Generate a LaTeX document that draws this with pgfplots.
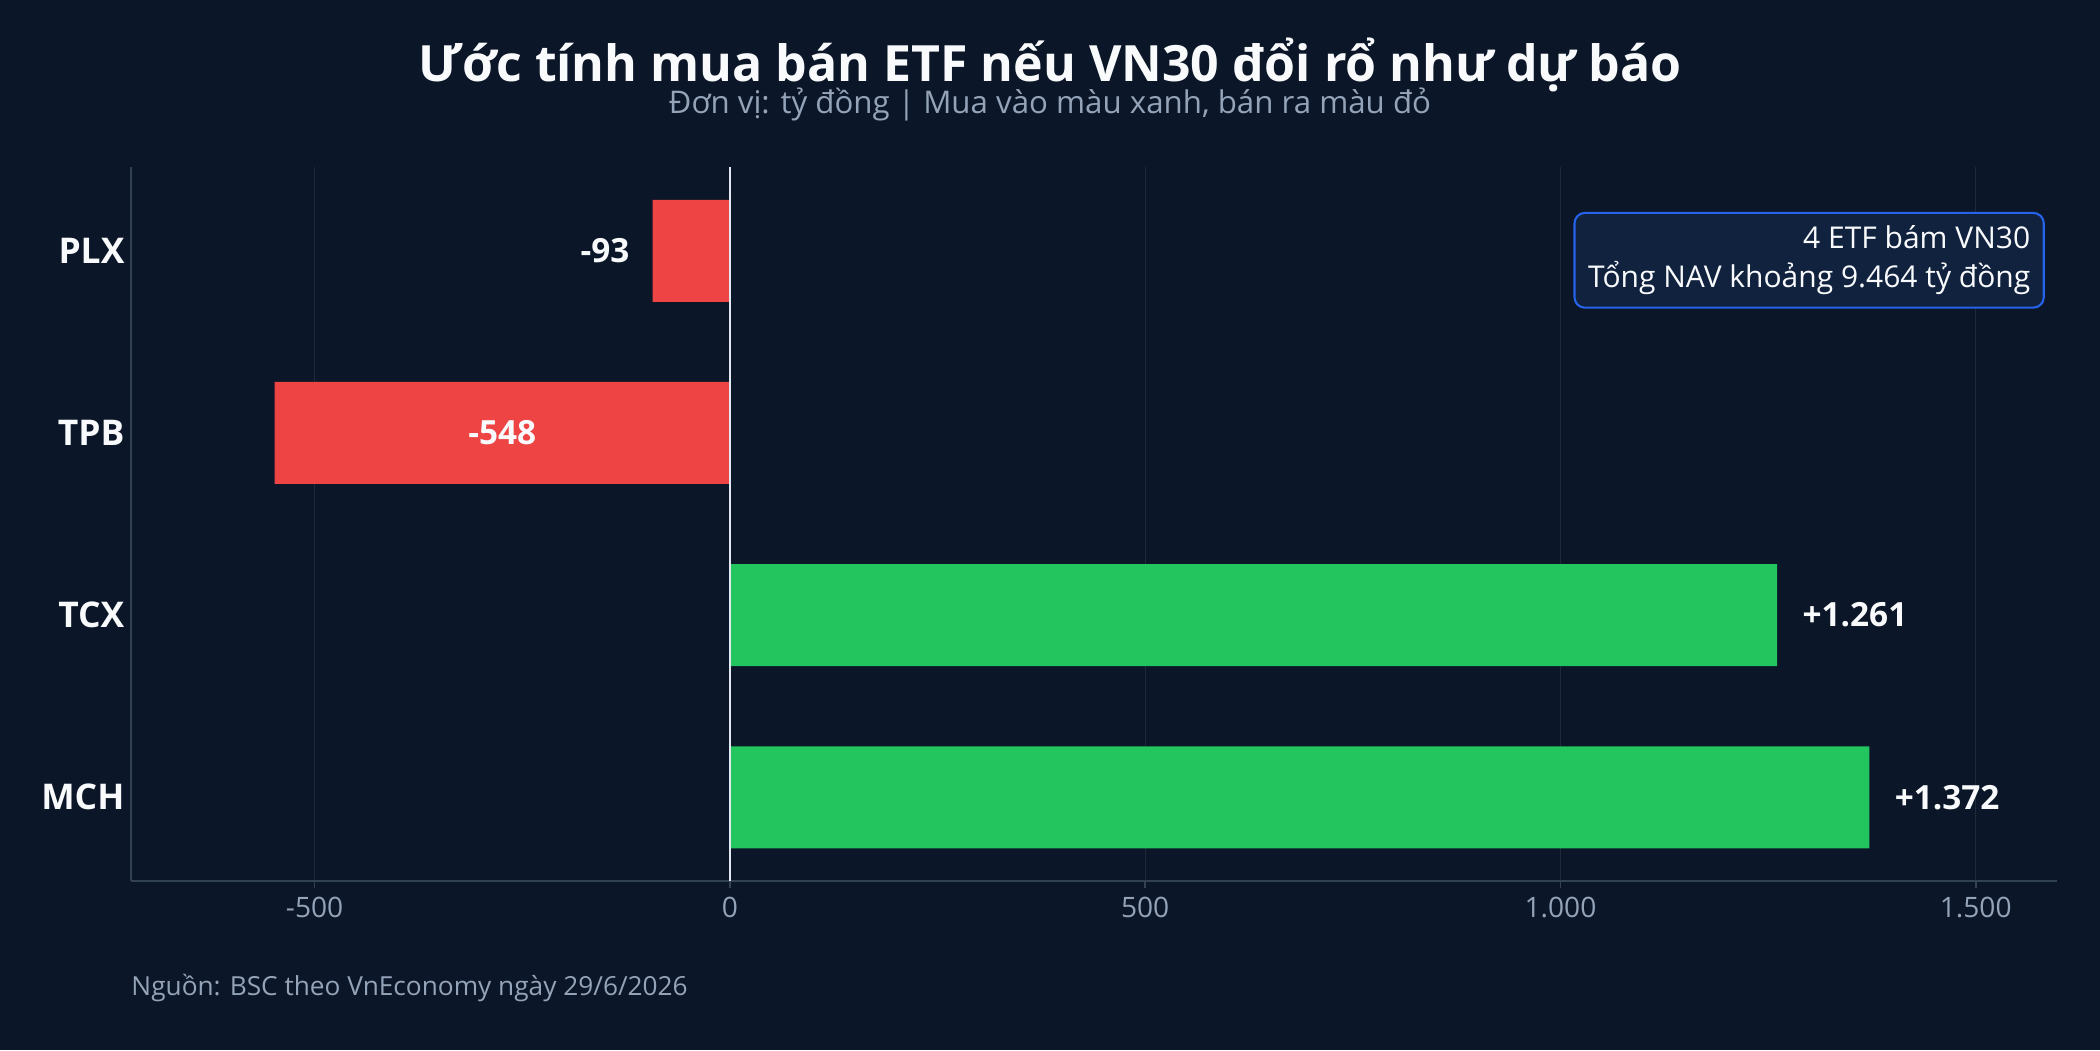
\documentclass[border=0pt]{standalone}
\usepackage{pgfplots}
\pgfplotsset{compat=1.18}
\usepackage{fontspec}
\setmainfont{Open Sans}

\definecolor{bg}{HTML}{0B1628}
\definecolor{gridc}{HTML}{1E293B}
\definecolor{spine}{HTML}{334155}
\definecolor{muted}{HTML}{94A3B8}
\definecolor{zeroc}{HTML}{E2E8F0}
\definecolor{sellc}{HTML}{EF4444}
\definecolor{buyc}{HTML}{22C55E}
\definecolor{boxfill}{HTML}{11223F}
\definecolor{boxedge}{HTML}{2563EB}
\definecolor{txt}{HTML}{F8FAFC}

\begin{document}
\begin{tikzpicture}
% page 14in x 7in
\fill[bg] (0,0) rectangle (1008pt,504pt);

\node[anchor=base, text=txt, font=\fontsize{24}{28}\selectfont\bfseries] at (504pt,464.8pt)
  {Ước tính mua bán ETF nếu VN30 đổi rổ như dự báo};
\node[anchor=base, text=muted, font=\fontsize{15}{18}\selectfont] at (504pt,449.6pt)
  {Đơn vị: tỷ đồng | Mua vào màu xanh, bán ra màu đỏ};
\node[anchor=base west, inner sep=0pt, text=muted, font=\fontsize{12.6}{15}\selectfont] at (62.9pt,26pt)
  {Nguồn: BSC theo VnEconomy ngày 29/6/2026};

\begin{axis}[
  at={(62.9pt,81.1pt)}, anchor=south west,
  width=924.5pt, height=342.7pt, scale only axis,
  xmin=-721, xmax=1598, ymin=-0.46, ymax=3.46,
  xbar, bar width=0.56,
  axis line style={draw=none},
  xmajorgrids, ymajorgrids=false,
  grid style={gridc, line width=0.6pt},
  xtick={-500,0,500,1000,1500},
  xticklabels={-500,0,500,1.000,1.500},
  xtick pos=bottom, xtick align=outside,
  major tick length=3.5pt,
  x tick style={spine, line width=0.8pt},
  xticklabel style={text=muted, font=\fontsize{13.5}{16}\selectfont, anchor=north, inner sep=0pt, yshift=-3.8pt},
  ytick={0,1,2,3},
  yticklabels={MCH,TCX,TPB,PLX},
  y tick style={draw=none},
  yticklabel style={text=txt, font=\fontsize{17}{20}\selectfont\bfseries, anchor=east, inner sep=0pt, xshift=0.5pt},
  clip=false,
]
\addplot[fill=sellc, draw=none, bar shift=0pt] coordinates {(-93,3) (-548,2)};
\addplot[fill=buyc, draw=none, bar shift=0pt] coordinates {(1261,1) (1372,0)};

% spines and zero line
\draw[spine, line width=0.6pt] (rel axis cs:0,0) -- (rel axis cs:0,1);
\draw[spine, line width=1pt] (rel axis cs:0,0) -- (rel axis cs:1,0);
\draw[zeroc, line width=1.2pt] (axis cs:0,-0.46) -- (axis cs:0,3.46);

% value labels
\begin{scope}[every node/.style={text=txt, font=\fontsize{16}{19}\selectfont\bfseries, inner sep=0pt}]
\node[anchor=east, xshift=-11pt] at (axis cs:-93,3) {-93};
\node at (axis cs:-274,2) {-548};
\node[anchor=west, xshift=12pt] at (axis cs:1261,1) {+1.261};
\node[anchor=west, xshift=12pt] at (axis cs:1372,0) {+1.372};
\end{scope}
\end{axis}

% info box
\node[anchor=north east, draw=boxedge, line width=1pt, fill=boxfill, rounded corners=5pt,
  inner xsep=6.5pt, inner ysep=6pt, align=right, text=txt,
  font=\fontsize{14.4}{19}\selectfont] at (981.5pt,402.3pt)
  {4 ETF bám VN30\\Tổng NAV khoảng 9.464 tỷ đồng};
\end{tikzpicture}
\end{document}
